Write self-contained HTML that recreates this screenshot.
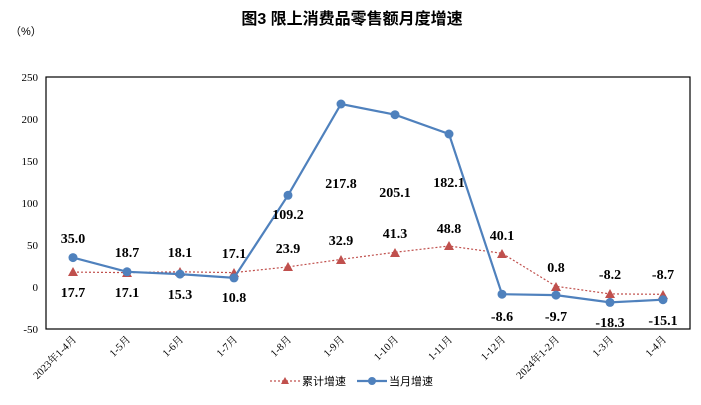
<!DOCTYPE html>
<html><head><meta charset="utf-8"><style>
body{margin:0;background:#fff;}
svg text{font-family:"Liberation Serif","Noto Serif CJK SC",serif;}
</style></head><body>
<svg width="701" height="400" viewBox="0 0 701 400" xmlns="http://www.w3.org/2000/svg">
<text x="352" y="24" text-anchor="middle" font-size="16" font-weight="bold" style="font-family:'Liberation Sans','Noto Sans CJK SC',sans-serif">图3  限上消费品零售额月度增速</text>
<text x="10" y="35" font-size="11" style="font-family:'Liberation Sans','Noto Sans CJK SC',sans-serif">（%）</text>
<rect x="46" y="77" width="644" height="252" fill="none" stroke="#000" stroke-width="1.2"/>
<g font-size="11" text-anchor="end" style="font-family:'Liberation Sans',sans-serif">
<text x="38" y="81">250</text><text x="38" y="123">200</text><text x="38" y="165">150</text>
<text x="38" y="207">100</text><text x="38" y="249">50</text><text x="38" y="291">0</text><text x="38" y="333">-50</text>
</g>
<g font-size="10.5" text-anchor="end" style="font-family:'Liberation Sans','Noto Sans CJK SC',sans-serif">
<text transform="translate(77,340) rotate(-45)">2023年1-4月</text>
<text transform="translate(131,340) rotate(-45)">1-5月</text>
<text transform="translate(184,340) rotate(-45)">1-6月</text>
<text transform="translate(238,340) rotate(-45)">1-7月</text>
<text transform="translate(292,340) rotate(-45)">1-8月</text>
<text transform="translate(345,340) rotate(-45)">1-9月</text>
<text transform="translate(399,340) rotate(-45)">1-10月</text>
<text transform="translate(453,340) rotate(-45)">1-11月</text>
<text transform="translate(506,340) rotate(-45)">1-12月</text>
<text transform="translate(560,340) rotate(-45)">2024年1-2月</text>
<text transform="translate(614,340) rotate(-45)">1-3月</text>
<text transform="translate(667,340) rotate(-45)">1-4月</text>
</g>
<polyline fill="none" stroke="#c0504d" stroke-width="1.2" stroke-dasharray="2,2" points="73,272.1 127,272.6 180,271.8 234,272.6 288,266.9 341,259.4 395,252.3 449,246 502,253.3 556,286.3 610,293.9 663,294.3"/>
<g fill="#c0504d">
<polygon points="73,267 68,276 78,276"/><polygon points="127,268 122,277 132,277"/><polygon points="180,267 175,276 185,276"/><polygon points="234,268 229,277 239,277"/><polygon points="288,262 283,271 293,271"/><polygon points="341,255 336,264 346,264"/><polygon points="395,248 390,257 400,257"/><polygon points="449,241 444,250 454,250"/><polygon points="502,249 497,258 507,258"/><polygon points="556,282 551,291 561,291"/><polygon points="610,289 605,298 615,298"/><polygon points="663,290 658,299 668,299"/>
</g>
<polyline fill="none" stroke="#4f81bd" stroke-width="2.2" points="73,257.6 127,271.8 180,274.1 234,277.9 288,195.3 341,104 395,114.7 449,134 502,294.2 556,295.1 610,302.4 663,299.7"/>
<g fill="#4f81bd">
<circle cx="73" cy="257.6" r="4.5"/><circle cx="127" cy="271.8" r="4.5"/><circle cx="180" cy="274.1" r="4.5"/><circle cx="234" cy="277.9" r="4.5"/><circle cx="288" cy="195.3" r="4.5"/><circle cx="341" cy="104" r="4.5"/><circle cx="395" cy="114.7" r="4.5"/><circle cx="449" cy="134" r="4.5"/><circle cx="502" cy="294.2" r="4.5"/><circle cx="556" cy="295.1" r="4.5"/><circle cx="610" cy="302.4" r="4.5"/><circle cx="663" cy="299.7" r="4.5"/>
</g>
<g font-size="14" font-weight="bold" text-anchor="middle">
<text x="73" y="243">35.0</text><text x="73" y="297">17.7</text>
<text x="127" y="257">18.7</text><text x="127" y="297">17.1</text>
<text x="180" y="257">18.1</text><text x="180" y="299">15.3</text>
<text x="234" y="258">17.1</text><text x="234" y="302">10.8</text>
<text x="288" y="253">23.9</text><text x="288" y="219">109.2</text>
<text x="341" y="245">32.9</text><text x="341" y="188">217.8</text>
<text x="395" y="238">41.3</text><text x="395" y="197">205.1</text>
<text x="449" y="233">48.8</text><text x="449" y="187">182.1</text>
<text x="502" y="240">40.1</text><text x="502" y="321">-8.6</text>
<text x="556" y="272">0.8</text><text x="556" y="321">-9.7</text>
<text x="610" y="279">-8.2</text><text x="610" y="327">-18.3</text>
<text x="663" y="279">-8.7</text><text x="663" y="325">-15.1</text>
</g>
<line x1="270" y1="381" x2="300" y2="381" stroke="#c0504d" stroke-width="1.2" stroke-dasharray="2,2"/>
<polygon points="285,377 281,384 289,384" fill="#c0504d"/>
<text x="302" y="385" font-size="11" style="font-family:'Liberation Sans','Noto Sans CJK SC',sans-serif">累计增速</text>
<line x1="357" y1="381" x2="387" y2="381" stroke="#4f81bd" stroke-width="2.2"/>
<circle cx="372" cy="381" r="4" fill="#4f81bd"/>
<text x="389" y="385" font-size="11" style="font-family:'Liberation Sans','Noto Sans CJK SC',sans-serif">当月增速</text>
</svg>
</body></html>
